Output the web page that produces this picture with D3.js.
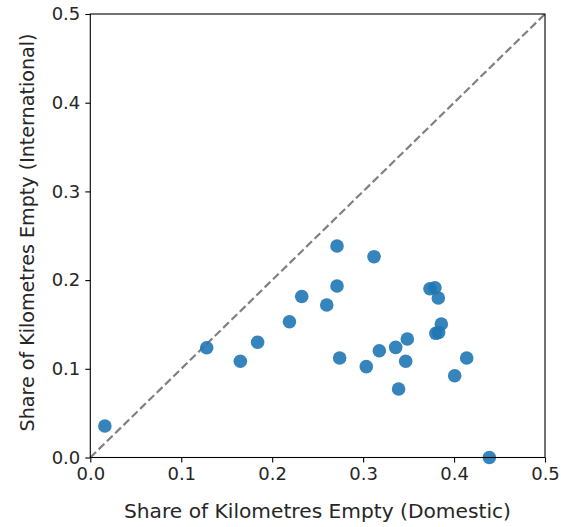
<!DOCTYPE html>
<html><head><meta charset="utf-8">
<script src="https://cdn.jsdelivr.net/npm/d3@7"></script>
<style>body{margin:0;background:#fff}svg{display:block}</style>
</head><body>
<script>
const domestic = [0.016,0.128,0.165,0.184,0.219,0.2325,0.2713,0.312,0.2713,0.26,0.2742,0.3035,0.3178,0.3358,0.3486,0.3468,0.339,0.3735,0.379,0.3827,0.386,0.380,0.383,0.4139,0.4007,0.4388];
const international = [0.0355,0.1238,0.1085,0.130,0.1531,0.1815,0.2384,0.2264,0.1933,0.172,0.1122,0.1024,0.1204,0.1242,0.1336,0.1085,0.0772,0.1903,0.1914,0.1798,0.1505,0.140,0.141,0.1122,0.0922,0.0];
const ticks = [0.0,0.1,0.2,0.3,0.4,0.5];
const xLabel = "Share of Kilometres Empty (Domestic)";
const yLabel = "Share of Kilometres Empty (International)";

const W=561,H=527;
const L=90.3,R=545,T=14,B=457.5;
const svg=d3.select("body").append("svg").attr("width",W).attr("height",H);
const x=d3.scaleLinear().domain([0,0.5]).range([L,R]);
const y=d3.scaleLinear().domain([0,0.5]).range([B,T]);
const font="DejaVu Sans";

svg.append("line").attr("x1",x(0)).attr("y1",y(0)).attr("x2",x(0.5)).attr("y2",y(0.5))
  .attr("stroke","#808080").attr("stroke-width",2.2).attr("stroke-dasharray","8,3.6");

const data=domestic.map((d,i)=>({d,i:international[i]}));
svg.append("g").selectAll("circle").data(data).join("circle")
  .attr("cx",p=>x(p.d)).attr("cy",p=>y(p.i)).attr("r",6.8)
  .attr("fill","#1f77b4").attr("fill-opacity",0.9);

const fmt=d3.format(".1f");
const xa=svg.append("g").attr("transform",`translate(0,${B})`)
  .call(d3.axisBottom(x).tickValues(ticks).tickFormat(fmt).tickSize(5).tickPadding(5));
const ya=svg.append("g").attr("transform",`translate(${L},0)`)
  .call(d3.axisLeft(y).tickValues(ticks).tickFormat(fmt).tickSize(5).tickPadding(5));
[xa,ya].forEach(a=>{a.select(".domain").remove();
  a.selectAll("text").attr("font-family",font).attr("font-size",18).attr("fill","#262626");
  a.selectAll("line").attr("stroke","#000").attr("stroke-width",1.1);});

svg.append("rect").attr("x",L).attr("y",T).attr("width",R-L).attr("height",B-T)
  .attr("fill","none").attr("stroke","#000").attr("stroke-width",1.1);

svg.append("text").attr("x",317.5).attr("y",518).attr("text-anchor","middle")
  .attr("font-family",font).attr("font-size",20.2).attr("fill","#262626").text(xLabel);
svg.append("text").attr("transform",`translate(33.5,232.5) rotate(-90)`).attr("text-anchor","middle")
  .attr("font-family",font).attr("font-size",19.1).attr("fill","#262626").text(yLabel);
</script>
</body></html>
